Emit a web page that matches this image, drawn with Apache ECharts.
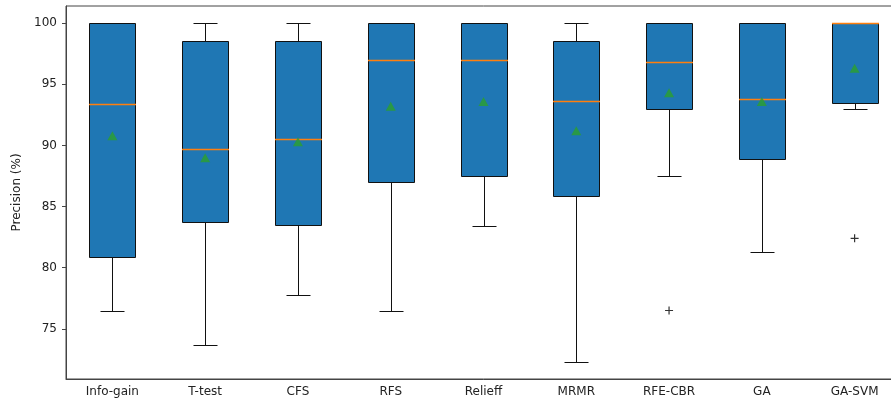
<!DOCTYPE html>
<html>
<head>
<meta charset="utf-8">
<title>Precision by feature selection method</title>
<script src="https://cdn.jsdelivr.net/npm/echarts@6/dist/echarts.min.js"></script>
<style>
  html, body { margin: 0; padding: 0; background: #fff; overflow: hidden; }
  #chart { width: 901px; height: 404px; }
</style>
</head>
<body>
<div id="chart"></div>
<script>
// Feature selection methods on the x axis
const categories = ['Info-gain', 'T-test', 'CFS', 'RFS', 'Relieff', 'MRMR', 'RFE-CBR', 'GA', 'GA-SVM'];

// Box plot statistics per method (precision, %)
const whiskerLow  = [76.5, 73.7, 77.8, 76.5, 83.4, 72.3, 87.5, 81.3, 93.0];
const q1          = [80.9, 83.7, 83.5, 87.0, 87.5, 85.9, 93.0, 88.9, 93.5];
const median      = [93.4, 89.7, 90.5, 97.0, 97.0, 93.6, 96.8, 93.8, 100.0];
const q3          = [100.0, 98.5, 98.5, 100.0, 100.0, 98.5, 100.0, 100.0, 100.0];
const whiskerHigh = [100.0, 100.0, 100.0, 100.0, 100.0, 100.0, 100.0, 100.0, 100.0];
const means       = [90.8, 89.0, 90.3, 93.2, 93.6, 91.2, 94.3, 93.6, 96.3];

// Outliers as [method index, value]
const outliers = [[6, 76.5], [8, 82.4]];

// Y axis tick labels
const yTicks = [75, 80, 85, 90, 95, 100];

const boxData = categories.map((c, i) => [i, whiskerLow[i], q1[i], median[i], q3[i], whiskerHigh[i]]);
const meanData = means.map((m, i) => [i, m]);

const chart = echarts.init(document.getElementById('chart'), null, { renderer: 'canvas' });

const textFont = { fontFamily: 'DejaVu Sans', fontSize: 12, color: '#222' };

// Snap to the pixel grid so 1px strokes stay crisp
const px = v => Math.round(v) + 0.5;

function renderBox(params, api) {
  const i = api.value(0);
  const yLow = px(api.coord([i, api.value(1)])[1]);
  const yQ1 = px(api.coord([i, api.value(2)])[1]);
  const yMed = px(api.coord([i, api.value(3)])[1]);
  const yQ3 = px(api.coord([i, api.value(4)])[1]);
  const yHigh = px(api.coord([i, api.value(5)])[1]);
  const band = api.size([1, 0])[0];
  const cx = px(api.coord([i, api.value(2)])[0]);
  const halfBox = Math.round(band * 0.25);
  const halfCap = Math.round(band * 0.125);
  const stroke = { stroke: '#111', lineWidth: 1, fill: 'none' };
  return {
    type: 'group',
    children: [
      {
        type: 'rect',
        shape: { x: cx - halfBox, y: yQ3, width: halfBox * 2, height: yQ1 - yQ3 },
        style: { fill: '#1f77b4', stroke: '#111', lineWidth: 1 }
      },
      { type: 'line', shape: { x1: cx, y1: yQ1, x2: cx, y2: yLow }, style: stroke },
      { type: 'line', shape: { x1: cx, y1: yQ3, x2: cx, y2: yHigh }, style: stroke },
      { type: 'line', shape: { x1: cx - halfCap, y1: yLow, x2: cx + halfCap, y2: yLow }, style: stroke },
      { type: 'line', shape: { x1: cx - halfCap, y1: yHigh, x2: cx + halfCap, y2: yHigh }, style: stroke },
      {
        // median bar
        type: 'rect',
        shape: { x: cx - halfBox - 0.5, y: yMed - 0.75, width: halfBox * 2 + 1, height: 1.5 },
        style: { fill: '#ff7f0e', stroke: 'none' }
      }
    ]
  };
}

chart.setOption({
  animation: false,
  backgroundColor: '#fff',
  grid: {
    left: 66, right: 0, top: 6, bottom: 25,
    show: true, borderColor: '#444', borderWidth: 1, backgroundColor: 'transparent'
  },
  xAxis: {
    type: 'category',
    data: categories,
    boundaryGap: true,
    axisLine: { lineStyle: { color: '#444', width: 1 } },
    axisTick: { alignWithLabel: true, length: 4, lineStyle: { color: '#444' } },
    axisLabel: Object.assign({ margin: 7, interval: 0 }, textFont),
    splitLine: { show: false }
  },
  yAxis: {
    type: 'value',
    min: 70.9,
    max: 101.4,
    name: 'Precision (%)',
    nameLocation: 'middle',
    nameGap: 40,
    nameTextStyle: textFont,
    axisLine: { show: true, lineStyle: { color: '#444', width: 1 } },
    axisTick: { show: true, length: 4, lineStyle: { color: '#444' }, customValues: yTicks },
    axisLabel: Object.assign({ margin: 9, customValues: yTicks }, textFont),
    splitLine: { show: false }
  },
  series: [
    {
      type: 'custom',
      renderItem: renderBox,
      encode: { x: 0, y: [1, 2, 3, 4, 5] },
      data: boxData,
      z: 2
    },
    {
      type: 'scatter',
      data: meanData,
      symbol: 'triangle',
      symbolSize: [10, 9],
      itemStyle: { color: '#2ca02c' },
      z: 3
    },
    {
      type: 'scatter',
      data: outliers,
      symbol: 'path://M5,0L5,10M0,5L10,5',
      symbolSize: 8,
      itemStyle: { color: 'transparent', borderColor: '#000', borderWidth: 1.2 },
      z: 3
    }
  ]
});
</script>
</body>
</html>
